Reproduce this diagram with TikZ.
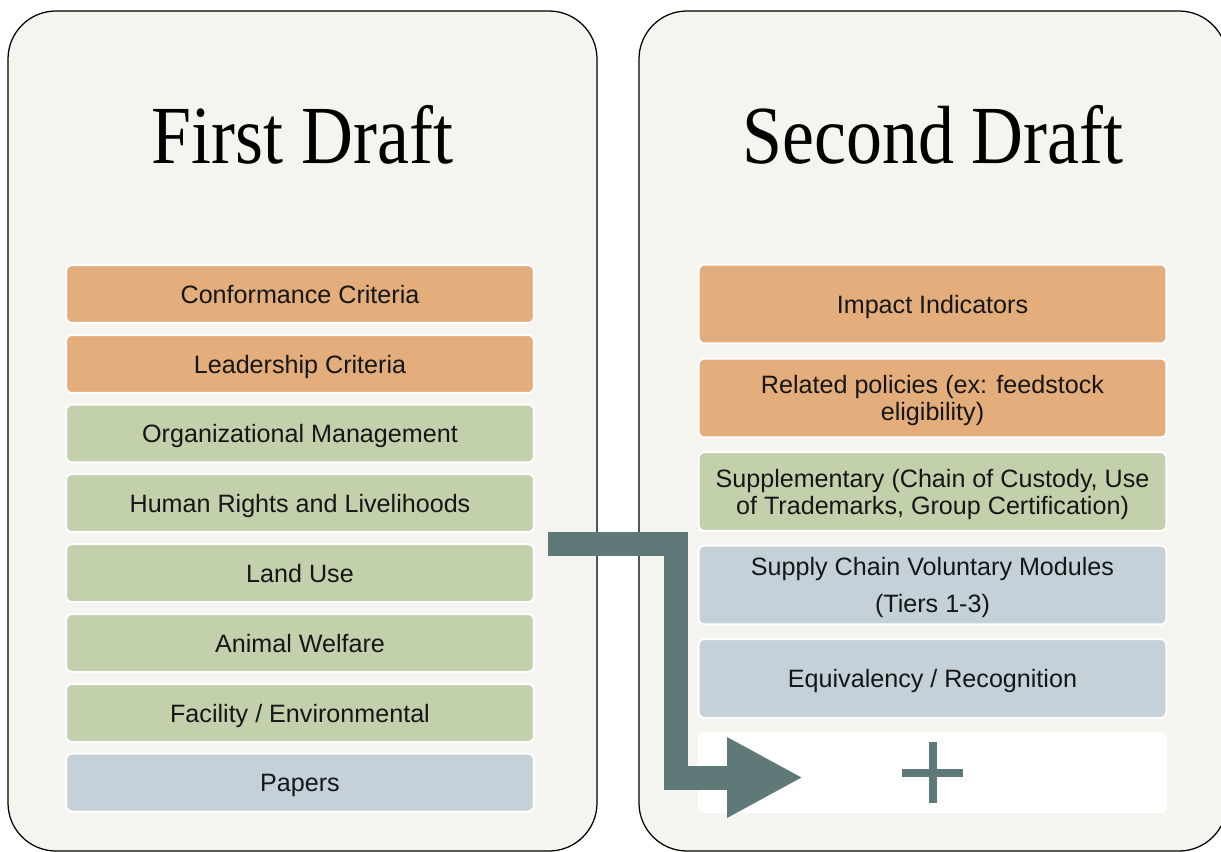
\documentclass[tikz,border=0pt]{standalone}
\usepackage{fontspec}
\setmainfont{Liberation Sans}
\newfontfamily\titlefont{Liberation Serif}
\usetikzlibrary{calc,arrows.meta}

\definecolor{panelbg}{HTML}{F5F4EF}
\definecolor{criteria}{HTML}{E3AD7C}
\definecolor{topic}{HTML}{C2D1AC}
\definecolor{module}{HTML}{C4D1D9}
\definecolor{flowteal}{HTML}{5F7878}
\definecolor{ink}{HTML}{161616}

\begin{document}
\begin{tikzpicture}[x = .02cm, y = -.02cm,
    panel/.style = {draw = black, line width = .25mm, fill = panelbg, rounded corners = .96cm},
    title/.style = {font = \titlefont\fontsize{47}{50}\selectfont, xscale = .87, anchor = base, text = black},
    box/.style = {draw = white, line width = .4mm, rounded corners = 1.2mm, minimum width = 9.36cm,
                  align = center, inner sep = 0pt, text = ink, font = \fontsize{14.3}{15.4}\selectfont,
                  text height = 10.3pt, text depth = 0pt},
    twolines/.style = {text height = {}},
    leftbox/.style = {box, minimum height = 1.16cm},
    rightbox/.style = {box, minimum height = 1.58cm},
    flow/.style = {draw = flowteal, line width = .48cm, line join = miter,
                   -{Triangle[length = 1.52cm, width = 1.5cm]}},
    plussign/.style = {draw = flowteal, line width = .16cm}]

    \useasboundingbox (0, 0) rectangle (1221, 852);
    \clip (0, 0) rectangle (1221, 852);
    \fill [white] (0, 0) rectangle (1221, 852);

    % panels
    \draw [panel] (8, 11) rectangle (597, 851);
    \draw [panel] (639, 11) rectangle (1227, 851);

    \node [title] (firsttitle) at (302.5, 163) {First Draft};
    \node [title] (secondtitle) at (933, 163) {Second Draft};

    % first draft
    \node [leftbox, fill = criteria] (conformance) at (300, 294) {Conformance Criteria};
    \node [leftbox, fill = criteria] (leadership) at (300, 364) {Leadership Criteria};
    \node [leftbox, fill = topic] (orgmgmt) at (300, 433.5) {Organizational Management};
    \node [leftbox, fill = topic] (humanrights) at (300, 503) {Human Rights and Livelihoods};
    \node [leftbox, fill = topic] (landuse) at (300, 573) {Land Use};
    \node [leftbox, fill = topic] (animalwelfare) at (300, 643) {Animal Welfare};
    \node [leftbox, fill = topic] (facility) at (300, 713) {Facility / Environmental};
    \node [leftbox, fill = module] (papers) at (300, 782.5) {Papers};

    % second draft
    \node [rightbox, fill = criteria] (impact) at (932.5, 304) {Impact Indicators};
    \node [rightbox, twolines, fill = criteria] (policies) at (932.5, 398) {Related policies (ex: feedstock\\eligibility)};
    \node [rightbox, twolines, fill = topic] (supplementary) at (932.5, 491.5) {Supplementary (Chain of Custody, Use\\of Trademarks, Group Certification)};
    \node [rightbox, twolines, fill = module] (supplychain) at (932.5, 585) {Supply Chain Voluntary Modules\\[6pt](Tiers 1-3)};
    \node [rightbox, fill = module] (equivalency) at (932.5, 678.5) {Equivalency / Recognition};
    \node [rightbox, fill = white] (plusbox) at (932.5, 772.5) {};

    \draw [plussign] ($(plusbox.center) + (-30.5, 0)$) -- ++(61, 0);
    \draw [plussign] ($(plusbox.center) + (0, -30.5)$) -- ++(0, 61);

    % arrow
    \coordinate (arrowstart) at (548, 544);
    \coordinate (arrowtip) at (803, 777.5);
    \draw [flow] (arrowstart) -| ($(arrowtip) + (-127.5, 0)$) -- (arrowtip);

\end{tikzpicture}
\end{document}
